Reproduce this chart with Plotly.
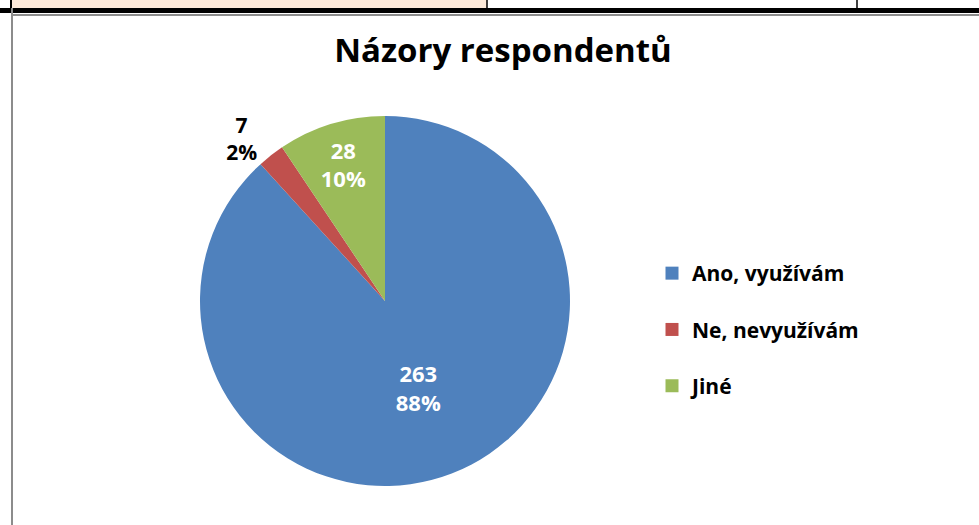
import plotly.graph_objects as go

labels = ["Ano, využívám", "Ne, nevyužívám", "Jiné"]
values = [263, 7, 28]
pct_labels = ["88%", "2%", "10%"]
colors = ["#4F81BD", "#C0504D", "#9BBB59"]
title = "Názory respondentů"

W, H = 979, 525
FONT = "Open Sans, Lato, sans-serif"

fig = go.Figure()

R = 185
fig.add_trace(go.Pie(
    labels=labels,
    values=values,
    text=pct_labels,
    texttemplate="<b>%{value}<br>%{text}</b>",
    textposition=["inside", "outside", "inside"],
    insidetextorientation="horizontal",
    insidetextfont=dict(color="white", size=22, family=FONT),
    outsidetextfont=dict(color="black", size=21, family=FONT),
    marker=dict(colors=colors, line=dict(width=0)),
    sort=False,
    direction="clockwise",
    rotation=0,
    showlegend=False,
    hoverinfo="label+value+percent",
    domain=dict(x=[(385 - R) / W, (385 + R) / W], y=[(224 - R) / H, (224 + R) / H]),
))

# legend entries (one group each so that the gap between them matches the reference)
for i, (lab, col) in enumerate(zip(labels, colors)):
    fig.add_trace(go.Scatter(
        x=[None], y=[None], mode="markers", name="<b>" + lab + "</b>",
        marker=dict(symbol="square", size=13, color=col),
        legendgroup=f"g{i}", showlegend=True,
    ))

fig.update_layout(
    width=W, height=H,
    margin=dict(l=0, r=0, t=0, b=0),
    paper_bgcolor="white",
    plot_bgcolor="white",
    font=dict(family=FONT, color="black"),
    title=dict(text="<b>" + title + "</b>", x=503 / W, xanchor="center",
               y=1 - 50 / H, yanchor="middle", font=dict(size=33, family=FONT, color="black")),
    xaxis=dict(visible=False),
    yaxis=dict(visible=False),
    legend=dict(x=652 / W, xanchor="left", y=1 - 253 / H, yanchor="top",
                font=dict(size=21, family=FONT, color="black"),
                tracegroupgap=26, itemsizing="trace", bgcolor="rgba(0,0,0,0)"),
    shapes=[
        # page/table decorations from the surrounding document
        dict(type="rect", xref="paper", yref="paper", x0=12 / W, x1=487 / W, y0=1 - 8 / H, y1=1,
             fillcolor="#FDE9D9", line=dict(width=0), layer="below"),
        dict(type="rect", xref="paper", yref="paper", x0=0, x1=1, y0=1 - 13 / H, y1=1 - 8 / H,
             fillcolor="black", line=dict(width=0)),
        dict(type="line", xref="paper", yref="paper", x0=12 / W, x1=1, y0=1 - 15 / H, y1=1 - 15 / H,
             line=dict(color="#8C8C8C", width=2)),
        dict(type="line", xref="paper", yref="paper", x0=12 / W, x1=12 / W, y0=0, y1=1 - 8 / H,
             line=dict(color="#8C8C8C", width=2)),
        dict(type="line", xref="paper", yref="paper", x0=11 / W, x1=11 / W, y0=1 - 8 / H, y1=1,
             line=dict(color="black", width=2)),
        dict(type="line", xref="paper", yref="paper", x0=487 / W, x1=487 / W, y0=1 - 8 / H, y1=1,
             line=dict(color="black", width=1.5)),
        dict(type="line", xref="paper", yref="paper", x0=857 / W, x1=857 / W, y0=1 - 8 / H, y1=1,
             line=dict(color="black", width=1.5)),
    ],
)

fig.write_html("out.html", config={"displayModeBar": False},
               post_script="document.body.style.margin='0';")
